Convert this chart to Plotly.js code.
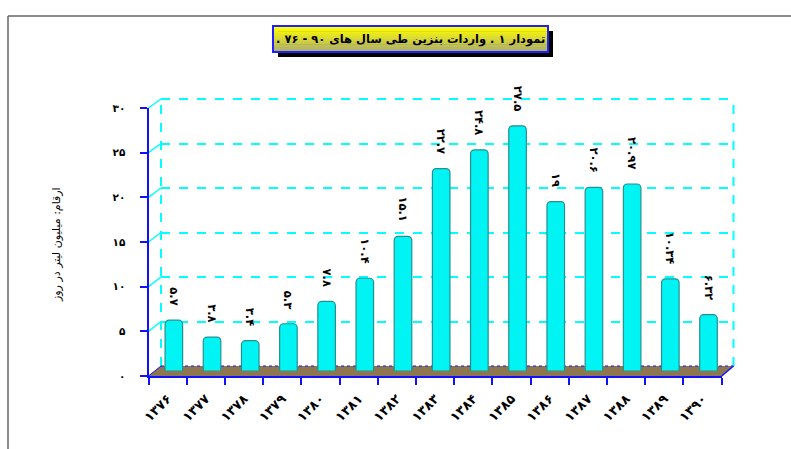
<!DOCTYPE html>
<html>
<head>
<meta charset="utf-8">
<script src="https://cdn.plot.ly/plotly-3.0.1.min.js"></script>
<style>
  html, body { margin: 0; padding: 0; background: #ffffff; }
  #chart { width: 791px; height: 449px; }
</style>
</head>
<body>
<div id="chart"></div>
<script>
// ---- data ----
const years = ['۱۳۷۶','۱۳۷۷','۱۳۷۸','۱۳۷۹','۱۳۸۰','۱۳۸۱','۱۳۸۲','۱۳۸۳','۱۳۸۴','۱۳۸۵','۱۳۸۶','۱۳۸۷','۱۳۸۸','۱۳۸۹','۱۳۹۰'];
const imports = [5.7, 3.8, 3.4, 5.3, 7.8, 10.4, 15.1, 22.7, 24.8, 27.5, 19, 20.6, 20.97, 10.34, 6.32];
const importLabels = ['۵.۷','۳.۸','۳.۴','۵.۳','۷.۸','۱۰.۴','۱۵.۱','۲۲.۷','۲۴.۸','۲۷.۵','۱۹','۲۰.۶','۲۰.۹۷','۱۰.۳۴','۶.۳۲'];
const yTickVals = [0, 5, 10, 15, 20, 25, 30];
const yTickText = ['۰','۵','۱۰','۱۵','۲۰','۲۵','۳۰'];
const titleText = 'تمودار ۱ . واردات بنزین طی سال های ۹۰ - ۷۶ .';
const yTitleText = 'ارقام: میلیون لیتر در روز';

// ---- geometry helpers (pixels -> paper, margins are zero) ----
const W = 791, H = 449;
const px = x => x / W;
const py = y => 1 - y / H;

const FRONT = {x0: 148.5, x1: 721.7, y0: 376, y1: 108};
const BACK  = {x0: 161,   x1: 733.5, y0: 366, y1: 99};
const MID   = {x0: (FRONT.x0 + BACK.x0) / 2, x1: (FRONT.x1 + BACK.x1) / 2,
               y0: (FRONT.y0 + BACK.y0) / 2, y1: (FRONT.y1 + BACK.y1) / 2};

const CYAN = '#00ffff';
const BLUE = '#1010ff';
const FONT = 'DejaVu Sans';

const shapes = [];
// page frame
shapes.push({type: 'line', xref: 'paper', yref: 'paper', x0: px(8), x1: px(791), y0: py(16), y1: py(16), line: {color: '#666', width: 1.5}, layer: 'below'});
shapes.push({type: 'line', xref: 'paper', yref: 'paper', x0: px(8), x1: px(8), y0: py(16), y1: py(449), line: {color: '#666', width: 1.5}, layer: 'below'});

// back plane edges
shapes.push({type: 'line', xref: 'paper', yref: 'paper', x0: px(BACK.x0), x1: px(BACK.x0), y0: py(BACK.y0), y1: py(BACK.y1), line: {color: CYAN, width: 2, dash: 'dash'}, layer: 'below'});
shapes.push({type: 'line', xref: 'paper', yref: 'paper', x0: px(BACK.x1), x1: px(BACK.x1), y0: py(BACK.y0), y1: py(BACK.y1), line: {color: CYAN, width: 2, dash: 'dash'}, layer: 'below'});
shapes.push({type: 'line', xref: 'paper', yref: 'paper', x0: px(BACK.x0), x1: px(BACK.x1), y0: py(BACK.y1), y1: py(BACK.y1), line: {color: CYAN, width: 2, dash: 'dash'}, layer: 'below'});
// left wall diagonals at each tick
yTickVals.forEach(v => {
  if (v === 0) return;
  const fy = FRONT.y0 - v / 30 * (FRONT.y0 - FRONT.y1);
  const by = BACK.y0 - v / 30 * (BACK.y0 - BACK.y1);
  shapes.push({type: 'line', xref: 'paper', yref: 'paper', x0: px(FRONT.x0), x1: px(BACK.x0), y0: py(fy), y1: py(by), line: {color: CYAN, width: 1.5}, layer: 'below'});
});
// floor
shapes.push({type: 'path', xref: 'paper', yref: 'paper',
  path: `M ${px(FRONT.x0)} ${py(FRONT.y0)} L ${px(BACK.x0)} ${py(BACK.y0)} L ${px(BACK.x1)} ${py(BACK.y0)} L ${px(FRONT.x1)} ${py(FRONT.y0)} Z`,
  fillcolor: '#8e7650', line: {color: 'rgba(0,0,0,0)', width: 0}, layer: 'below'});
shapes.push({type: 'line', xref: 'paper', yref: 'paper', x0: px(BACK.x0), x1: px(BACK.x1), y0: py(BACK.y0), y1: py(BACK.y0), line: {color: BLUE, width: 1, dash: 'dot'}, layer: 'below'});
shapes.push({type: 'line', xref: 'paper', yref: 'paper', x0: px(FRONT.x1), x1: px(BACK.x1), y0: py(FRONT.y0), y1: py(BACK.y0), line: {color: BLUE, width: 1.5}, layer: 'below'});
shapes.push({type: 'line', xref: 'paper', yref: 'paper', x0: px(FRONT.x0), x1: px(BACK.x0), y0: py(FRONT.y0), y1: py(BACK.y0), line: {color: BLUE, width: 1}, layer: 'below'});

// title box: shadow + gradient strips + border
const TB = {x0: 273, x1: 548, y0: 26, y1: 52};
shapes.push({type: 'rect', xref: 'paper', yref: 'paper', x0: px(TB.x0 + 5), x1: px(TB.x1 + 5), y0: py(TB.y0 + 5), y1: py(TB.y1 + 5), fillcolor: '#000', line: {width: 0}, layer: 'above'});
const strips = 10;
for (let i = 0; i < strips; i++) {
  const t = i / (strips - 1);
  const r = Math.round(255 - t * 80), g = Math.round(255 - t * 80), b = Math.round(0 + t * 110);
  const ya = TB.y0 + (TB.y1 - TB.y0) * i / strips;
  const yb = TB.y0 + (TB.y1 - TB.y0) * (i + 1) / strips;
  shapes.push({type: 'rect', xref: 'paper', yref: 'paper', x0: px(TB.x0), x1: px(TB.x1), y0: py(ya), y1: py(yb + 0.5), fillcolor: `rgb(${r},${g},${b})`, line: {width: 0}, layer: 'above'});
}
shapes.push({type: 'rect', xref: 'paper', yref: 'paper', x0: px(TB.x0), x1: px(TB.x1), y0: py(TB.y0), y1: py(TB.y1), fillcolor: 'rgba(0,0,0,0)', line: {color: '#2020ff', width: 2}, layer: 'above'});

const annotations = [
  {xref: 'paper', yref: 'paper', x: px((TB.x0 + TB.x1) / 2), y: py((TB.y0 + TB.y1) / 2), xanchor: 'center', yanchor: 'middle',
   text: '\u202B' + titleText + '\u202C', showarrow: false, font: {family: FONT, size: 11.5, color: '#000', weight: 'bold'}},
  {xref: 'paper', yref: 'paper', x: px(57), y: py(245), xanchor: 'center', yanchor: 'middle', textangle: -90,
   text: yTitleText, showarrow: false, font: {family: FONT, size: 11, color: '#000'}}
];

const data = [{
  type: 'scatter', mode: 'markers', x: years, y: imports, xaxis: 'x2', yaxis: 'y2',
  marker: {opacity: 0, size: 1}, hoverinfo: 'skip', showlegend: false
}, {
  type: 'bar',
  x: years,
  y: imports,
  xaxis: 'x3', yaxis: 'y3',
  width: 0.46,
  marker: {color: '#00f4f4', line: {color: '#259090', width: 1.2}},
  text: importLabels.map(s => s + '\u2002\u2002'),
  textposition: 'outside',
  textangle: 90,
  constraintext: 'none',
  cliponaxis: false,
  textfont: {family: FONT, size: 11.5, color: '#000', weight: 'bold'},
  hoverinfo: 'skip'
}, {
  type: 'scatter', mode: 'markers', x: years, y: imports, xaxis: 'x', yaxis: 'y',
  marker: {opacity: 0, size: 1}, hoverinfo: 'skip', showlegend: false
}];

const layout = {
  width: W, height: H,
  margin: {l: 0, r: 0, t: 0, b: 0, pad: 0},
  paper_bgcolor: '#ffffff',
  plot_bgcolor: 'rgba(0,0,0,0)',
  showlegend: false,
  barcornerradius: 4,
  xaxis: {
    domain: [px(FRONT.x0), px(FRONT.x1)], anchor: 'y', type: 'category', range: [-0.5, 14.5],
    showline: true, linecolor: BLUE, linewidth: 2, showgrid: false, zeroline: false,
    ticks: 'outside', tickson: 'boundaries', ticklen: 7, tickwidth: 2, tickcolor: BLUE,
    ticklabelstandoff: 8,
    tickangle: -45, tickfont: {family: FONT, size: 13, color: '#000', weight: 'bold'}, fixedrange: true
  },
  yaxis: {
    domain: [py(FRONT.y0), py(FRONT.y1)], anchor: 'x', range: [0, 30],
    tickvals: yTickVals, ticktext: yTickText,
    showline: true, linecolor: BLUE, linewidth: 2, showgrid: false, zeroline: false,
    ticks: 'outside', ticklen: 7, tickwidth: 2, tickcolor: BLUE, ticklabelstandoff: 12,
    tickfont: {family: FONT, size: 10.5, color: '#000', weight: 'bold'}, fixedrange: true
  },
  xaxis2: {
    domain: [px(BACK.x0), px(BACK.x1)], anchor: 'y2', type: 'category', range: [-0.5, 14.5],
    showline: false, showgrid: false, zeroline: false, showticklabels: false, ticks: '', fixedrange: true
  },
  yaxis2: {
    domain: [py(BACK.y0), py(BACK.y1)], anchor: 'x2', range: [0, 30],
    tickvals: yTickVals.filter(v => v > 0),
    showline: false, showgrid: true, gridcolor: CYAN, gridwidth: 2, griddash: 'dash',
    zeroline: false, showticklabels: false, ticks: '', fixedrange: true
  },
  xaxis3: {
    domain: [px(MID.x0), px(MID.x1)], anchor: 'y3', type: 'category', range: [-0.5, 14.5],
    visible: false, fixedrange: true
  },
  yaxis3: {
    domain: [py(MID.y0), py(MID.y1)], anchor: 'x3', range: [0, 30],
    visible: false, fixedrange: true
  },
  shapes: shapes,
  annotations: annotations
};

Plotly.newPlot('chart', data, layout, {displayModeBar: false, staticPlot: true});
</script>
</body>
</html>
